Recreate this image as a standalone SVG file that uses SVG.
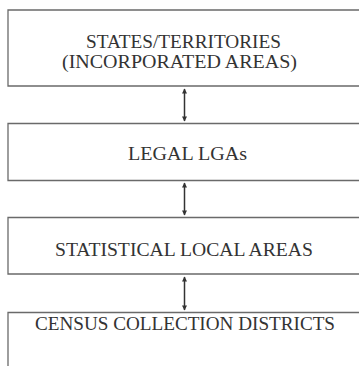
<svg xmlns="http://www.w3.org/2000/svg" width="359" height="366" viewBox="0 0 359 366">
<defs>
<style>
.box{fill:none;stroke:#6a6a6a;stroke-width:1.3}
.t{font-family:"Liberation Serif","Times New Roman",serif;font-size:19px;fill:#333;text-anchor:middle}
.c{stroke:#333;stroke-width:1.5;fill:none}
</style>
<marker id="ah" viewBox="0 0 10 10" refX="9" refY="5" markerWidth="8" markerHeight="5" markerUnits="userSpaceOnUse" orient="auto-start-reverse">
<path d="M0,0 L10,5 L0,10 z" fill="#333"/>
</marker>
</defs>
<rect width="359" height="366" fill="#fff"/>
<g id="n1">
<path class="box" d="M362,10 H8 V86 H362"/>
<text class="t" x="183.5" y="48" textLength="195" lengthAdjust="spacingAndGlyphs">STATES/TERRITORIES</text>
<text class="t" x="179.5" y="67.5" textLength="235" lengthAdjust="spacingAndGlyphs">(INCORPORATED AREAS)</text>
</g>
<g id="n2">
<path class="box" d="M362,123.5 H8 V180.5 H362"/>
<text class="t" x="187.5" y="159.5" textLength="119" lengthAdjust="spacingAndGlyphs">LEGAL LGAs</text>
</g>
<g id="n3">
<path class="box" d="M362,217.5 H8 V274 H362"/>
<text class="t" x="184" y="256" textLength="258" lengthAdjust="spacingAndGlyphs">STATISTICAL LOCAL AREAS</text>
</g>
<g id="n4">
<path class="box" d="M362,312.5 H8 V370"/>
<text class="t" x="185" y="330" textLength="300" lengthAdjust="spacingAndGlyphs">CENSUS COLLECTION DISTRICTS</text>
</g>
<g id="connectors">
<line class="c" x1="184.5" y1="89" x2="184.5" y2="121" marker-start="url(#ah)" marker-end="url(#ah)"/>
<line class="c" x1="184.5" y1="183" x2="184.5" y2="215" marker-start="url(#ah)" marker-end="url(#ah)"/>
<line class="c" x1="184.5" y1="277" x2="184.5" y2="310" marker-start="url(#ah)" marker-end="url(#ah)"/>
</g>
</svg>
